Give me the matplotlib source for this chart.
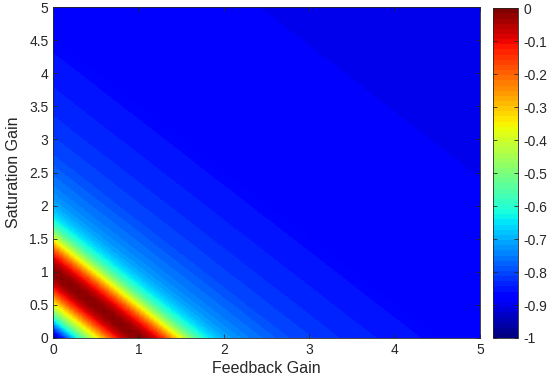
import numpy as np
import matplotlib
matplotlib.use("Agg")
import matplotlib.pyplot as plt

plt.rcParams['font.family'] = ['Liberation Sans', 'DejaVu Sans']

# grid of gains, step 0.1
feedback_gain = np.round(np.arange(0, 5.01, 0.1), 2)
saturation_gain = np.round(np.arange(0, 5.01, 0.1), 2)

# value read along the diagonal (feedback + saturation), step 0.1 from 0 to 10
diag_profile = [
    -0.97, -0.86, -0.73, -0.60, -0.48, -0.38, -0.27, -0.16, -0.08, -0.03,   # 0.0-0.9
    -0.01, -0.03, -0.08, -0.15, -0.26, -0.37, -0.48, -0.57, -0.63, -0.67,   # 1.0-1.9
    -0.70, -0.72, -0.735, -0.75, -0.76, -0.77, -0.78, -0.79, -0.80, -0.805,  # 2.0-2.9
    -0.81, -0.815, -0.82, -0.825, -0.83, -0.835, -0.838, -0.841, -0.844, -0.847,  # 3.0-3.9
    -0.85, -0.853, -0.856, -0.859, -0.862, -0.876, -0.877, -0.877, -0.878, -0.878,  # 4.0-4.9
    -0.879, -0.879, -0.880, -0.880, -0.881, -0.881, -0.882, -0.882, -0.883, -0.883,  # 5.0-5.9
    -0.884, -0.884, -0.885, -0.885, -0.886, -0.886, -0.887, -0.887, -0.888, -0.888,  # 6.0-6.9
    -0.889, -0.889, -0.890, -0.890, -0.890, -0.892, -0.892, -0.893, -0.893, -0.894,  # 7.0-7.9
    -0.894, -0.895, -0.895, -0.896, -0.896, -0.897, -0.897, -0.897, -0.898, -0.898,  # 8.0-8.9
    -0.898, -0.899, -0.899, -0.899, -0.900, -0.900, -0.900, -0.901, -0.901, -0.901,  # 9.0-9.9
    -0.902,                                                                  # 10.0
]

cbar_ticks = [-1, -0.9, -0.8, -0.7, -0.6, -0.5, -0.4, -0.3, -0.2, -0.1, 0]
axis_ticks = [0, 0.5, 1, 1.5, 2, 2.5, 3, 3.5, 4, 4.5, 5]

profile = np.array(diag_profile)
ii, jj = np.meshgrid(np.arange(len(feedback_gain)), np.arange(len(saturation_gain)))
Z = profile[ii + jj]   # rows = saturation, cols = feedback

fig = plt.figure(figsize=(5.5, 3.83), dpi=100)
ax = fig.add_axes([0.097, 0.1175, 0.776, 0.864])
cax = fig.add_axes([0.897, 0.1175, 0.0455, 0.861])

cmap = plt.get_cmap('jet', 64)
step = 0.1
im = ax.imshow(Z, origin='lower', cmap=cmap, vmin=-1, vmax=0, aspect='auto',
               extent=(-step / 2, 5 + step / 2, -step / 2, 5 + step / 2),
               interpolation='bilinear', interpolation_stage='data')
ax.set_xlim(0, 5)
ax.set_ylim(0, 5)

txt = '#262626'
ax.set_xticks([0, 1, 2, 3, 4, 5])
ax.set_yticks(axis_ticks)
ax.set_yticklabels(['0', '0.5', '1', '1.5', '2', '2.5', '3', '3.5', '4', '4.5', '5'])
ax.tick_params(direction='in', length=3, top=True, right=True, colors=txt,
               labelsize=10, labelcolor=txt, width=0.6)
for s in ax.spines.values():
    s.set_color(txt)
    s.set_linewidth(0.6)
ax.set_xlabel('Feedback Gain', fontsize=11.5, color=txt, labelpad=3)
ax.set_ylabel('Saturation Gain', fontsize=11.5, color=txt, labelpad=6)

cb = fig.colorbar(im, cax=cax, ticks=cbar_ticks)
cb.ax.set_yticklabels(['-1', '-0.9', '-0.8', '-0.7', '-0.6', '-0.5', '-0.4',
                       '-0.3', '-0.2', '-0.1', '0'])
cb.ax.tick_params(direction='in', length=3, left=True, right=True, colors=txt,
                  labelsize=10, labelcolor=txt, width=0.6)
cb.outline.set_edgecolor(txt)
cb.outline.set_linewidth(0.6)

fig.savefig('out.png', dpi=100)
